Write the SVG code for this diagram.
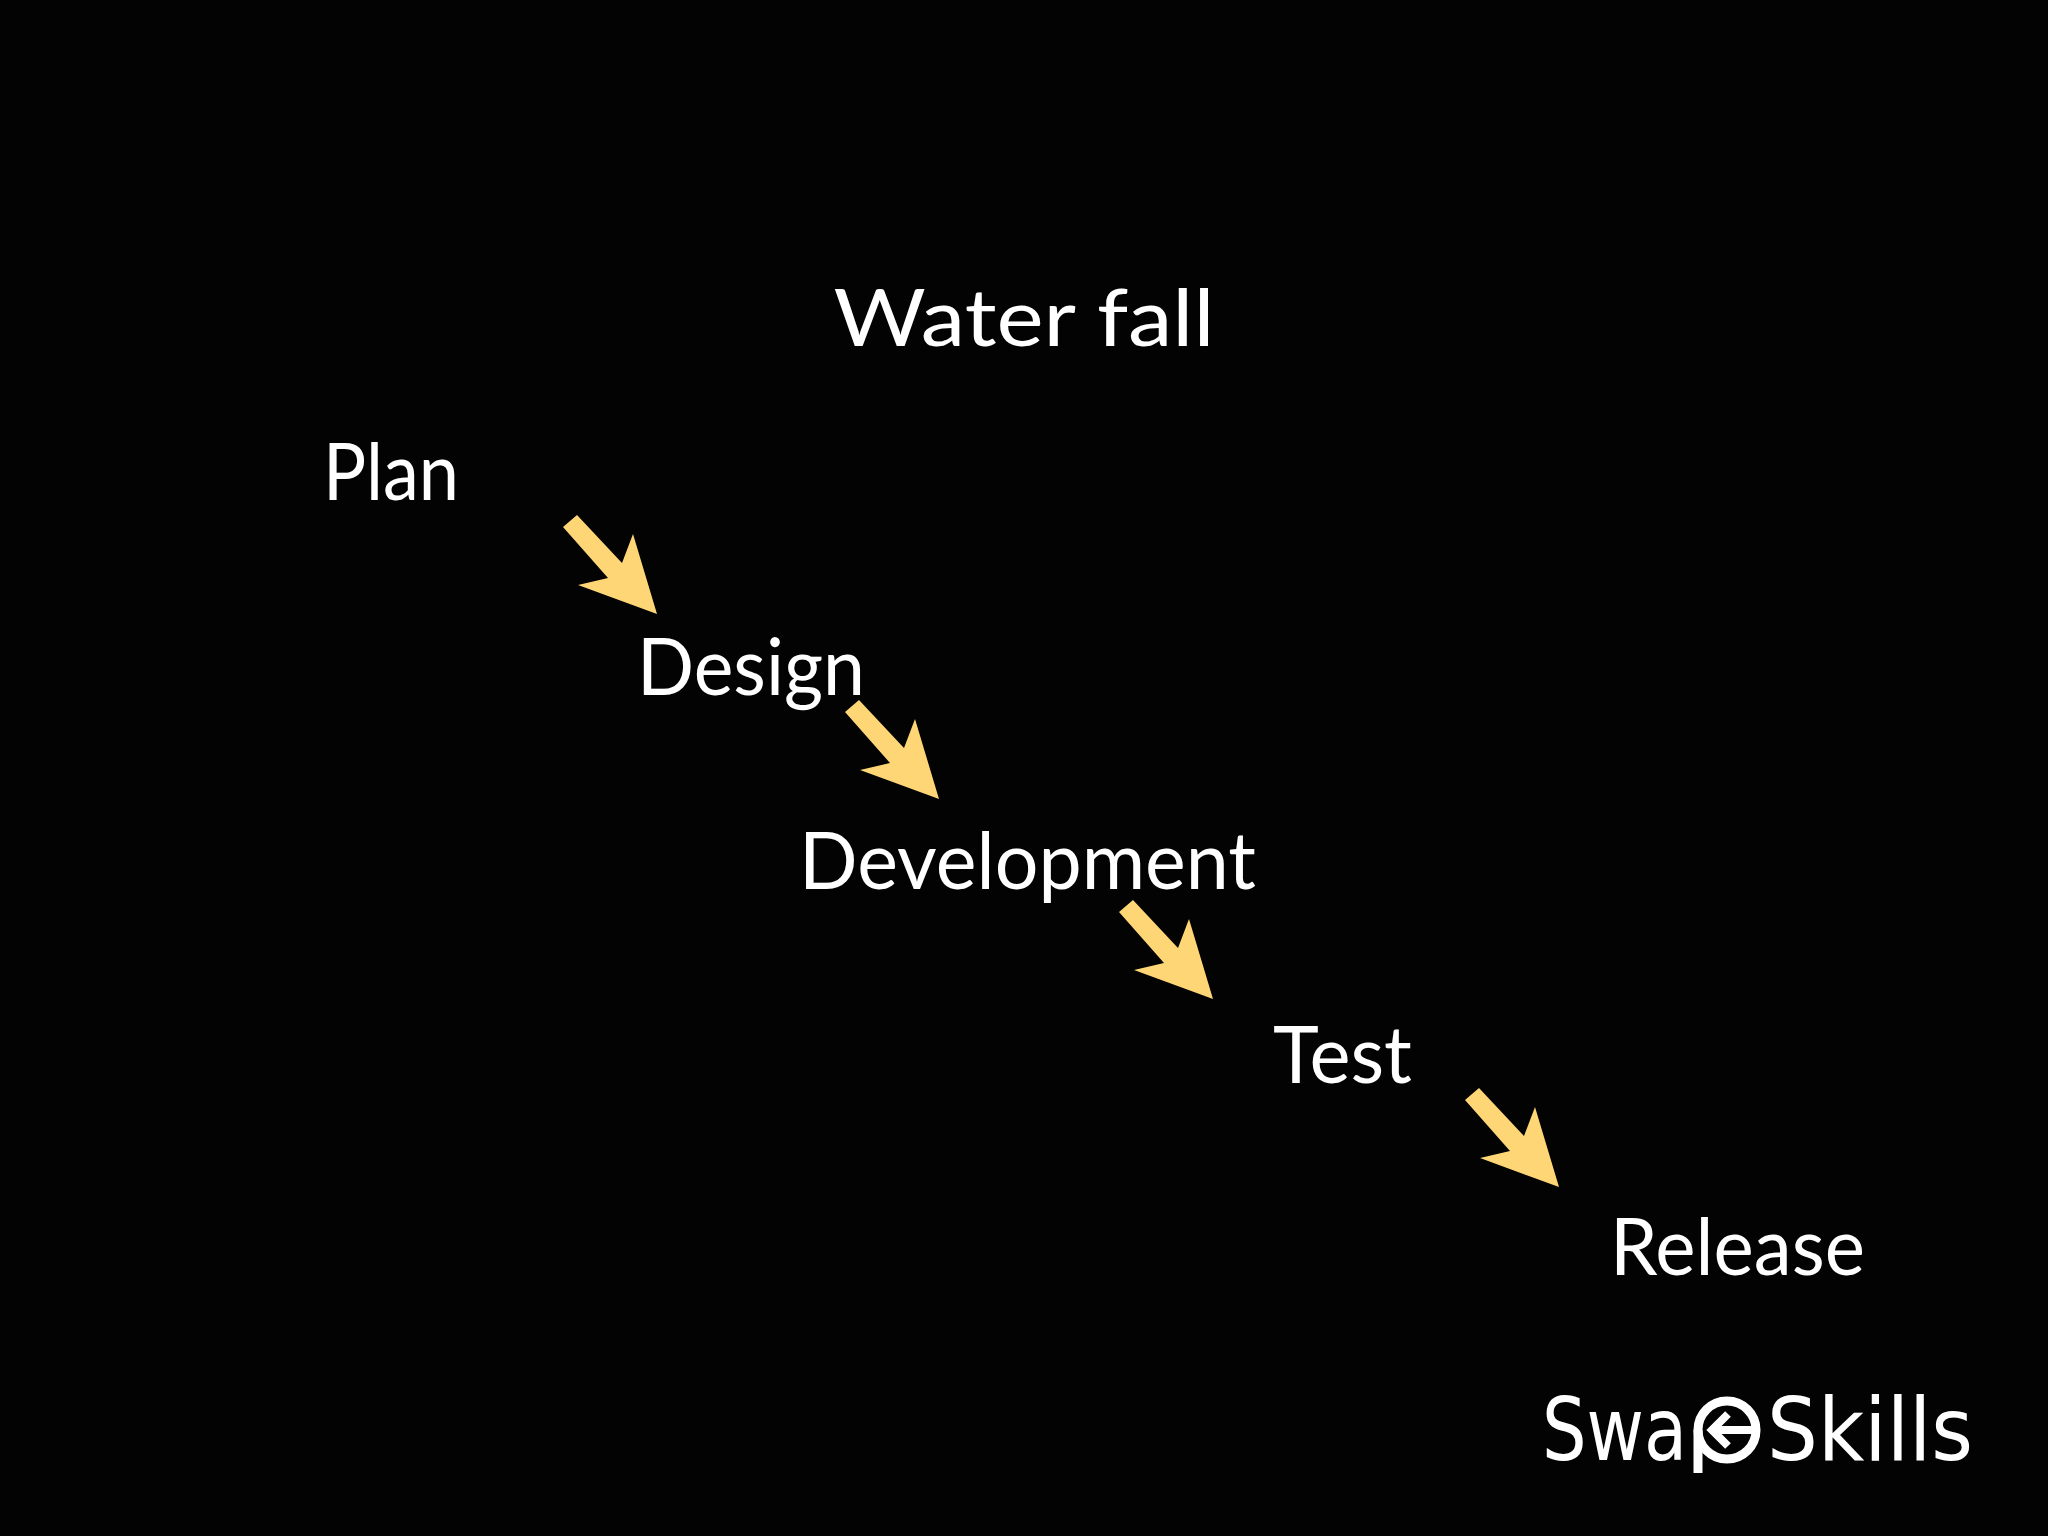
<svg xmlns="http://www.w3.org/2000/svg" width="2048" height="1536" viewBox="0 0 2048 1536">
<style>
.t{fill:#fff;font-family:Lato,"Open Sans",sans-serif;font-size:80px}
.a{fill:#ffd675}
.l{fill:#fff;font-family:"DejaVu Sans",sans-serif;font-size:88px}
</style>
<defs><polygon id="arr" class="a" points="-94,-87 -80,-99 -35,-51 -24,-80 0,0 -79,-29 -49,-36"/></defs>
<rect width="2048" height="1536" fill="#030303"/>
<text class="t" x="1024" y="346" text-anchor="middle" font-size="98" textLength="381" lengthAdjust="spacingAndGlyphs">Water fall</text>
<g id="plan"><text class="t" x="323" y="500" textLength="136" lengthAdjust="spacingAndGlyphs">Plan</text></g>
<g id="design"><text class="t" x="637" y="695" textLength="228" lengthAdjust="spacingAndGlyphs">Design</text></g>
<g id="development"><text class="t" x="799" y="889" textLength="457" lengthAdjust="spacingAndGlyphs">Development</text></g>
<g id="test"><text class="t" x="1273" y="1083" textLength="139" lengthAdjust="spacingAndGlyphs">Test</text></g>
<g id="release"><text class="t" x="1610" y="1275" textLength="255" lengthAdjust="spacingAndGlyphs">Release</text></g>
<g id="connectors">
<use href="#arr" x="657" y="614"/>
<use href="#arr" x="939" y="799"/>
<use href="#arr" x="1213" y="999"/>
<use href="#arr" x="1559" y="1187"/>
</g>
<g id="logo">
<text class="l" x="1542" y="1460" textLength="145" lengthAdjust="spacingAndGlyphs">Swa</text>
<circle cx="1727" cy="1430" r="29" fill="none" stroke="#fff" stroke-width="9"/>
<line x1="1698" y1="1430" x2="1698" y2="1473" stroke="#fff" stroke-width="9"/>
<line x1="1712" y1="1430" x2="1760" y2="1430" stroke="#fff" stroke-width="8"/>
<polyline points="1728,1414 1712,1430 1728,1446" fill="none" stroke="#fff" stroke-width="8"/>
<text class="l" x="1767" y="1460" textLength="206" lengthAdjust="spacingAndGlyphs">Skills</text>
</g>
</svg>
